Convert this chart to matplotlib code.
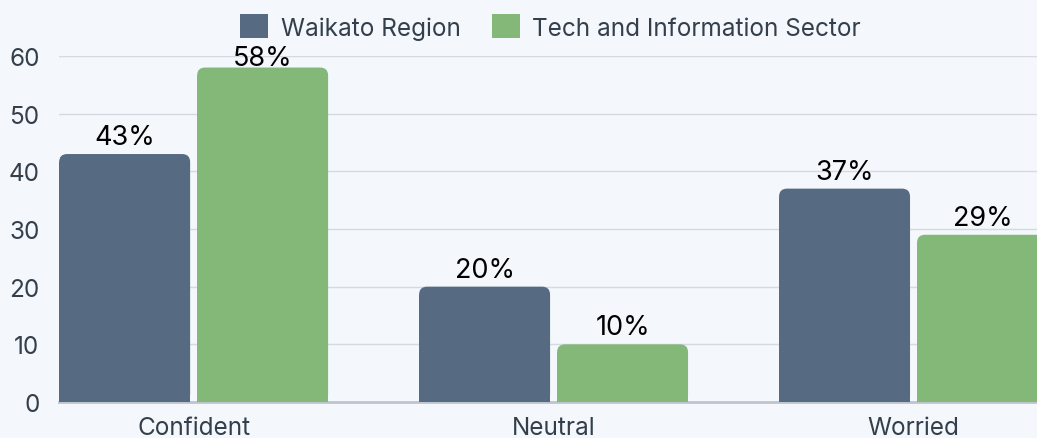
"""Confidence survey: Waikato Region vs Tech and Information Sector."""
import matplotlib
matplotlib.use("Agg")
import matplotlib.pyplot as plt
from matplotlib.patches import FancyBboxPatch, Patch
import numpy as np

# --- Data --------------------------------------------------------------------
categories = ["Confident", "Neutral", "Worried"]
waikato = [43, 20, 37]
tech = [58, 10, 29]
series_names = ["Waikato Region", "Tech and Information Sector"]
y_ticks = [0, 10, 20, 30, 40, 50, 60]

# --- Style -------------------------------------------------------------------
BG = "#F4F7FC"
BLUE = "#566B82"
GREEN = "#83B879"
GRID = "#D5DAE2"
TEXT = "#333F4A"

plt.rcParams["font.family"] = ["Inter", "DejaVu Sans"]

fig = plt.figure(figsize=(10.37, 4.39), dpi=100, facecolor=BG)
ax = fig.add_axes([59 / 1037, 36 / 439, 978 / 1037, 346 / 439], facecolor=BG)

x = np.arange(len(categories))
bar_w = 131 / 360
gap = 7 / 360
offsets = [-(bar_w + gap) / 2, (bar_w + gap) / 2]

ax.set_xlim(-0.374, 2.343)
ax.set_ylim(0, 60)

# rounding radius ~8px, converted to data units on each axis
px_x = 1 / 360
px_y = 60 / 346
r_x = 8 * px_x
r_y = 8 * px_y

for vals, off, color in [(waikato, offsets[0], BLUE), (tech, offsets[1], GREEN)]:
    # square-bottomed body from the library's bar, rounded cap drawn on top
    bars = ax.bar(x + off, [v - r_y for v in vals], width=bar_w, color=color,
                  zorder=3, linewidth=0)
    for b, v in zip(bars, vals):
        cap = FancyBboxPatch((b.get_x(), 0), b.get_width(), v,
                             boxstyle=f"round,pad=0,rounding_size={r_x}",
                             mutation_aspect=r_y / r_x,
                             facecolor=color, edgecolor="none", zorder=3)
        ax.add_patch(cap)
        label_y = min(v + 10 * px_y, 58.4)
        ax.text(b.get_x() + b.get_width() / 2, label_y, f"{v}%",
                ha="center", va="baseline", fontsize=19.5, color="black",
                zorder=4, clip_on=False)

ax.set_yticks(y_ticks)
ax.set_xticks(x)
ax.set_xticklabels(categories)
ax.tick_params(axis="both", length=0, labelsize=17.5, colors=TEXT)
ax.tick_params(axis="y", pad=14)
ax.tick_params(axis="x", pad=10)

ax.grid(axis="y", color=GRID, linewidth=1, zorder=0)
for s in ["top", "right", "left"]:
    ax.spines[s].set_visible(False)
ax.spines["bottom"].set_color("#BFC5CE")
ax.spines["bottom"].set_linewidth(2)
ax.spines["bottom"].set_zorder(2)

handles = [Patch(facecolor=BLUE, edgecolor="none"),
           Patch(facecolor=GREEN, edgecolor="none")]
fig.legend(handles, series_names, loc="upper center", bbox_to_anchor=(0.531, 1.015),
           ncol=2, frameon=False, fontsize=17.5, labelcolor=TEXT,
           handlelength=1.15, handleheight=1.15, handletextpad=0.5,
           columnspacing=1.3)

fig.savefig("out.png", dpi=100, facecolor=BG)
